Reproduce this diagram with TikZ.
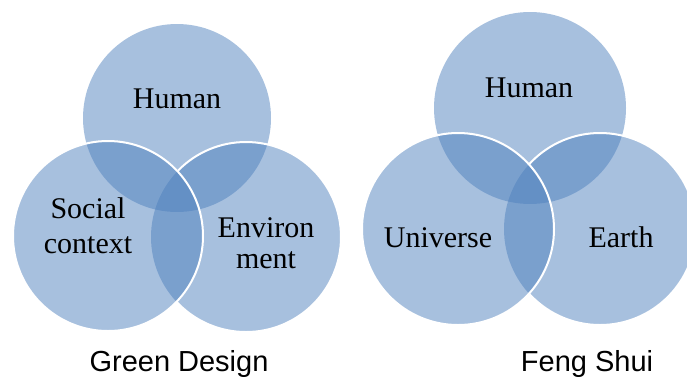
\documentclass[tikz,border=0pt]{standalone}
\usepackage{fontspec}
\setmainfont{Liberation Serif}
\newfontfamily\captionfont{Liberation Sans}
\definecolor{vennblue}{HTML}{4F81BD}

\begin{document}
\begin{tikzpicture}[x=1pt,y=-1pt,
  venn/.style={fill=vennblue,fill opacity=0.5},
  rim/.style={draw=white,line width=2pt},
  label/.style={font=\fontsize{30}{34}\selectfont,align=center,anchor=base,inner sep=0pt},
  caption/.style={font=\captionfont\fontsize{29}{33}\selectfont,anchor=base,inner sep=0pt}]
  \useasboundingbox (0,0) rectangle (687,376);

  \begin{scope}
    \coordinate (gdHuman) at (177,118);
    \coordinate (gdSocial) at (108,236);
    \coordinate (gdEnv) at (246,237);
    \fill[venn] (gdHuman) circle[radius=94pt];
    \fill[venn] (gdEnv) circle[radius=95pt];
    \fill[venn] (gdSocial) circle[radius=95pt];
    \begin{scope}[even odd rule]
      \clip (0,0) rectangle (687,376) (gdSocial) circle[radius=95pt];
      \draw[rim] (gdEnv) circle[radius=95pt];
    \end{scope}
    \draw[rim] (gdSocial) circle[radius=95pt];
    \node[label] (gdHumanText) at (177,108) {Human};
    \node[label] (gdSocialText) at (88,253) {Social\\[1pt]context};
    \node[label] (gdEnvText) at (266,268) {Environ\\[-3pt]ment};
    \node[caption] (gdCaption) at (179,371) {Green Design};
  \end{scope}

  \begin{scope}
    \coordinate (fsHuman) at (530,108);
    \coordinate (fsUniverse) at (458,229);
    \coordinate (fsEarth) at (600,229);
    \fill[venn] (fsHuman) circle[radius=96pt];
    \fill[venn] (fsEarth) circle[radius=96pt];
    \fill[venn] (fsUniverse) circle[radius=96pt];
    \begin{scope}[even odd rule]
      \clip (0,0) rectangle (687,376) (fsUniverse) circle[radius=96pt];
      \draw[rim] (fsEarth) circle[radius=96pt];
    \end{scope}
    \draw[rim] (fsUniverse) circle[radius=96pt];
    \node[label] (fsHumanText) at (529,97) {Human};
    \node[label] (fsUniverseText) at (438,247) {Universe};
    \node[label] (fsEarthText) at (621,247) {Earth};
    \node[caption] (fsCaption) at (587,371) {Feng Shui};
  \end{scope}
\end{tikzpicture}
\end{document}
